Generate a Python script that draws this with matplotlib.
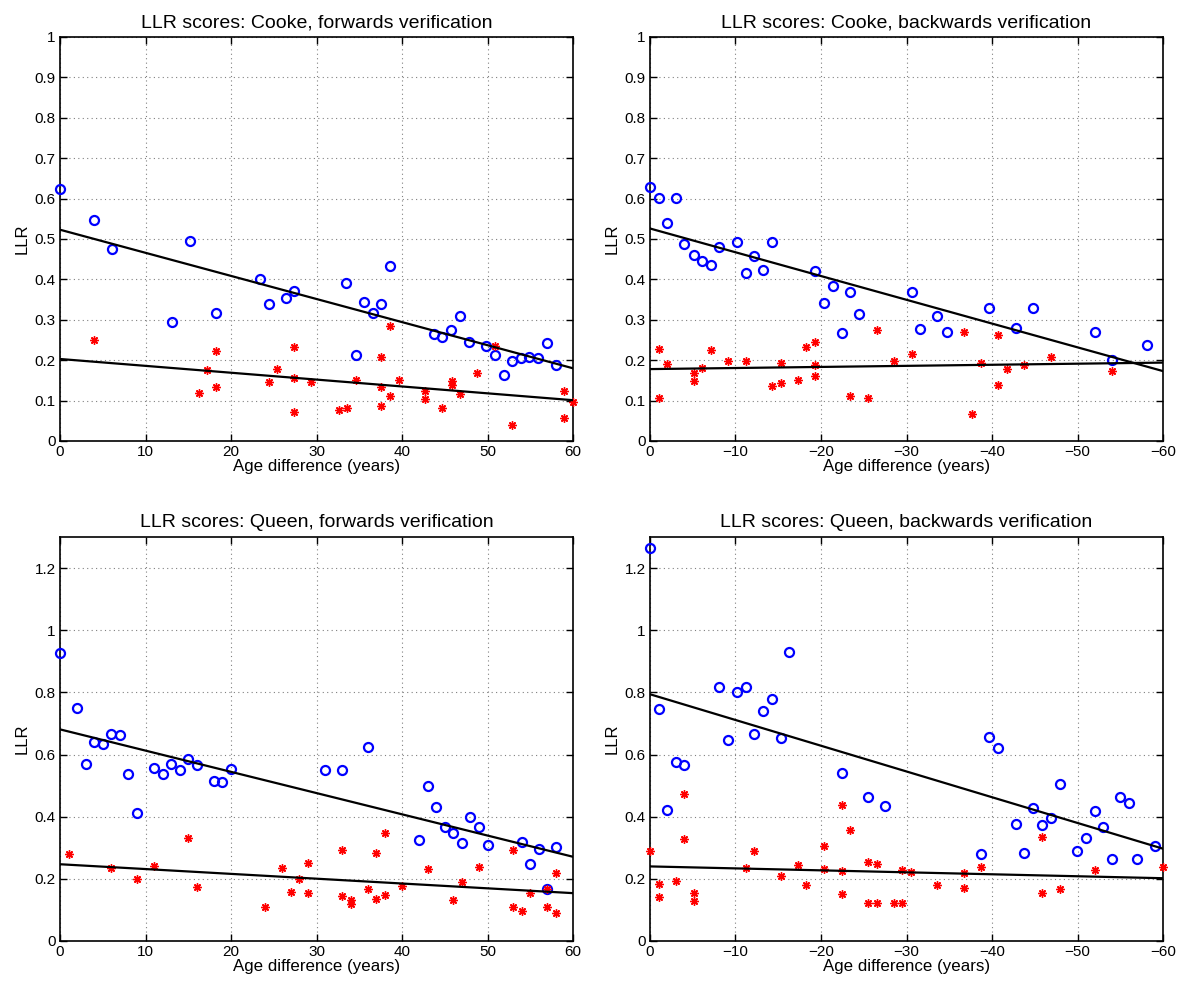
import matplotlib
matplotlib.use("Agg")
import matplotlib.pyplot as plt
import numpy as np

plt.rcParams['font.family'] = ['Liberation Sans', 'DejaVu Sans']

# ---------------- data ----------------
# Cooke, forwards
cf_pos_x = [0, 4.0, 6.1, 13.1, 15.2, 18.3, 23.4, 24.4, 26.4, 27.4, 33.5, 34.6, 35.6, 36.6, 37.6,
            38.6, 43.7, 44.7, 45.7, 46.8, 47.8, 49.8, 50.9, 51.9, 52.9, 53.9, 54.9, 55.9, 57.0, 58.0]
cf_pos_y = [0.623, 0.547, 0.476, 0.294, 0.494, 0.318, 0.400, 0.338, 0.355, 0.372, 0.391, 0.213, 0.343,
            0.316, 0.340, 0.433, 0.265, 0.257, 0.274, 0.309, 0.246, 0.236, 0.212, 0.164, 0.199, 0.205,
            0.208, 0.205, 0.243, 0.189]
cf_neg_x = [4.0, 16.3, 17.2, 18.3, 18.3, 24.4, 25.4, 27.4, 27.4, 27.4, 29.4, 32.6, 33.6, 34.6, 37.6,
            37.6, 37.6, 38.6, 38.6, 39.6, 42.7, 42.7, 44.7, 45.8, 45.8, 46.8, 48.8, 50.9, 52.9, 59.0,
            59.0, 60.0]
cf_neg_y = [0.250, 0.119, 0.176, 0.223, 0.134, 0.145, 0.178, 0.233, 0.156, 0.072, 0.145, 0.077, 0.082,
            0.150, 0.208, 0.133, 0.087, 0.285, 0.111, 0.152, 0.123, 0.105, 0.082, 0.149, 0.139, 0.116,
            0.168, 0.235, 0.040, 0.123, 0.056, 0.097]
cf_fit_pos = [0.523, -0.005717]   # intercept, slope
cf_fit_neg = [0.203, -0.0017]

# Cooke, backwards
cb_pos_x = [0, -1.0, -2.0, -3.0, -4.0, -5.1, -6.1, -7.1, -8.1, -10.2, -11.2, -12.2, -13.2, -14.3,
            -19.3, -20.4, -21.4, -22.4, -23.4, -24.5, -30.6, -31.6, -33.6, -34.7, -39.7, -42.8, -44.8,
            -52.0, -54.0, -58.1]
cb_pos_y = [0.629, 0.601, 0.539, 0.601, 0.488, 0.460, 0.445, 0.435, 0.481, 0.493, 0.417, 0.457, 0.423,
            0.493, 0.421, 0.342, 0.384, 0.268, 0.368, 0.314, 0.368, 0.276, 0.309, 0.270, 0.328, 0.279,
            0.330, 0.269, 0.200, 0.238]
cb_neg_x = [-1.0, -1.0, -2.0, -5.1, -5.1, -6.1, -7.1, -9.1, -11.2, -14.3, -15.3, -15.3, -17.3, -18.3,
            -19.3, -19.3, -19.3, -23.4, -25.5, -26.5, -28.5, -30.6, -36.7, -37.7, -38.7, -40.7, -40.7,
            -41.8, -43.8, -46.9, -54.0]
cb_neg_y = [0.227, 0.106, 0.191, 0.169, 0.149, 0.180, 0.226, 0.198, 0.197, 0.136, 0.194, 0.143, 0.150,
            0.233, 0.245, 0.187, 0.162, 0.111, 0.106, 0.275, 0.197, 0.215, 0.270, 0.066, 0.194, 0.263,
            0.139, 0.177, 0.187, 0.209, 0.173]
cb_fit_pos = [0.526, 0.005883]
cb_fit_neg = [0.178, -0.000267]

# Queen, forwards
qf_pos_x = [0, 2, 3, 4, 5, 6, 7, 8, 9, 11, 12, 13, 14, 15, 16, 18, 19, 20, 31, 33, 36, 42, 43, 44,
            45, 46, 47, 48, 49, 50, 54, 55, 56, 57, 58]
qf_pos_y = [0.928, 0.750, 0.569, 0.641, 0.633, 0.667, 0.663, 0.538, 0.413, 0.558, 0.536, 0.570, 0.551,
            0.587, 0.566, 0.514, 0.512, 0.552, 0.549, 0.551, 0.625, 0.325, 0.499, 0.432, 0.367, 0.349,
            0.316, 0.399, 0.368, 0.310, 0.319, 0.248, 0.297, 0.168, 0.301]
qf_neg_x = [1, 6, 9, 11, 15, 16, 24, 26, 27, 28, 29, 29, 33, 33, 34, 34, 36, 37, 37, 38, 38, 40, 43,
            46, 47, 49, 53, 53, 54, 55, 57, 57, 58, 58]
qf_neg_y = [0.279, 0.235, 0.198, 0.240, 0.331, 0.173, 0.110, 0.234, 0.157, 0.200, 0.251, 0.153, 0.292,
            0.146, 0.132, 0.119, 0.167, 0.136, 0.284, 0.346, 0.149, 0.177, 0.233, 0.133, 0.191, 0.238,
            0.292, 0.109, 0.096, 0.154, 0.168, 0.111, 0.218, 0.089]
qf_fit_pos = [0.681, -0.006833]
qf_fit_neg = [0.247, -0.00155]

# Queen, backwards
qb_pos_x = [0, -1, -2, -3, -4, -8.1, -9.1, -10.2, -11.2, -12.2, -13.2, -14.3, -15.3, -16.3, -22.4,
            -25.5, -27.5, -38.7, -39.7, -40.7, -42.8, -43.8, -44.8, -45.9, -46.9, -47.9, -49.9, -51.0,
            -52.0, -53.0, -54.0, -55.0, -56.0, -57.0, -59.1]
qb_pos_y = [1.266, 0.748, 0.421, 0.575, 0.565, 0.818, 0.646, 0.802, 0.817, 0.667, 0.740, 0.778, 0.653,
            0.931, 0.540, 0.464, 0.434, 0.279, 0.657, 0.622, 0.377, 0.282, 0.428, 0.374, 0.397, 0.505,
            0.289, 0.332, 0.419, 0.367, 0.263, 0.464, 0.445, 0.264, 0.305]
qb_neg_x = [0, -1.0, -1.0, -3.0, -4.0, -4.0, -5.1, -5.1, -11.2, -12.2, -15.3, -17.3, -18.3, -20.4,
            -20.4, -22.4, -22.4, -22.4, -23.4, -25.5, -26.5, -25.5, -26.5, -28.5, -29.5, -29.5, -30.5,
            -33.6, -36.7, -36.7, -38.7, -45.9, -45.9, -47.9, -52.0, -60.0]
qb_neg_y = [0.289, 0.185, 0.143, 0.193, 0.472, 0.327, 0.153, 0.130, 0.235, 0.289, 0.208, 0.244, 0.180,
            0.305, 0.233, 0.437, 0.224, 0.152, 0.356, 0.253, 0.249, 0.121, 0.121, 0.122, 0.123, 0.228,
            0.222, 0.179, 0.219, 0.169, 0.237, 0.334, 0.155, 0.166, 0.229, 0.239]
qb_fit_pos = [0.794, 0.008283]
qb_fit_neg = [0.240, 0.000633]

titles = ["LLR scores: Cooke, forwards verification",
          "LLR scores: Cooke, backwards verification",
          "LLR scores: Queen, forwards verification",
          "LLR scores: Queen, backwards verification"]
xlabel = "Age difference (years)"
ylabel = "LLR"

# ---------------- plotting ----------------
W, H = 1182, 983
fig = plt.figure(figsize=(W / 100, H / 100), dpi=100)

def px_axes(x0, x1, ytop, ybot):
    return [x0 / W, 1 - ybot / H, (x1 - x0) / W, (ybot - ytop) / H]

positions = [px_axes(60, 573, 37, 441), px_axes(650, 1163, 37, 441),
             px_axes(60, 573, 537, 941), px_axes(650, 1163, 537, 941)]

panels = [
    (cf_pos_x, cf_pos_y, cf_neg_x, cf_neg_y, cf_fit_pos, cf_fit_neg, False, 1.0, 0.1),
    (cb_pos_x, cb_pos_y, cb_neg_x, cb_neg_y, cb_fit_pos, cb_fit_neg, True, 1.0, 0.1),
    (qf_pos_x, qf_pos_y, qf_neg_x, qf_neg_y, qf_fit_pos, qf_fit_neg, False, 1.3, 0.2),
    (qb_pos_x, qb_pos_y, qb_neg_x, qb_neg_y, qb_fit_pos, qb_fit_neg, True, 1.3, 0.2),
]

def fmt(v):
    s = f"{v:.1f}"
    if s.endswith(".0"):
        s = s[:-2]
    return s.replace("-", "\u2212")

for i, (px, py, nx, ny, fp, fn, backward, ymax, ystep) in enumerate(panels):
    ax = fig.add_axes(positions[i])
    ax.plot(px, py, linestyle='none', marker='o', markersize=6.5, markerfacecolor='none',
            markeredgecolor='#0000ff', markeredgewidth=1.6, clip_on=False, zorder=3)
    ax.plot(nx, ny, linestyle='none', marker=(8, 2, 0), markersize=6, color='#ff0000',
            markeredgewidth=1.0, clip_on=False, zorder=3)
    if backward:
        xl = np.array([0, -60])
    else:
        xl = np.array([0, 60])
    ax.plot(xl, fp[0] + fp[1] * xl, color='black', linewidth=1.6, zorder=4)
    ax.plot(xl, fn[0] + fn[1] * xl, color='black', linewidth=1.6, zorder=4)

    if backward:
        ax.set_xlim(0, -60)
        xt = np.arange(0, -61, -10)
    else:
        ax.set_xlim(0, 60)
        xt = np.arange(0, 61, 10)
    ax.set_xticks(xt)
    ax.set_xticklabels([fmt(v) for v in xt])
    ax.set_ylim(0, ymax)
    yt = np.round(np.arange(0, ymax + 1e-9, ystep), 2)
    if ymax > 1.1:
        yt = yt[yt <= 1.2 + 1e-9]
    ax.set_yticks(yt)
    ax.set_yticklabels([fmt(v) for v in yt])

    ax.grid(True, color='#808080', linestyle=(0, (1, 3)), linewidth=0.8)
    ax.set_axisbelow(True)
    ax.tick_params(direction='in', length=5, width=1, top=True, right=True,
                   labelsize=11, pad=3, colors='black')
    for s in ax.spines.values():
        s.set_linewidth(1.2)
        s.set_color('black')
    ax.set_title(titles[i], fontsize=14, pad=7)
    ax.set_xlabel(xlabel, fontsize=12.2, labelpad=0)
    ax.set_ylabel(ylabel, fontsize=12, labelpad=4)

fig.savefig("out.png", dpi=100)
